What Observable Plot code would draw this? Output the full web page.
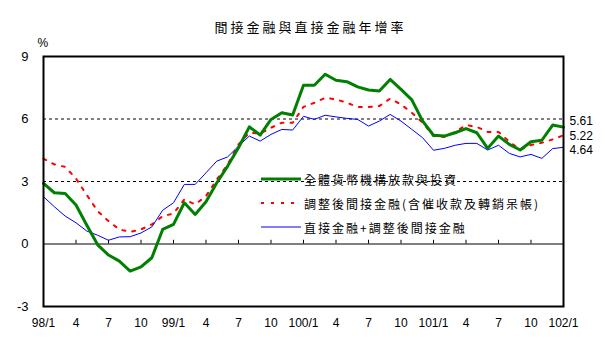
<!DOCTYPE html>
<html><head><meta charset="utf-8">
<script src="https://cdn.jsdelivr.net/npm/d3@7"></script>
<script src="https://cdn.jsdelivr.net/npm/@observablehq/plot@0.6"></script>
<style>
body{margin:0;background:#fff;}
#wrap{position:relative;width:605px;height:352px;}
#legend{position:absolute;left:261px;top:170px;font-family:"Noto Sans CJK TC","Noto Sans CJK SC",sans-serif;font-size:12px;letter-spacing:2px;color:#000;}
#legend .row{position:absolute;left:0;white-space:nowrap;display:flex;align-items:center;height:18px;}
#legend svg{margin-right:3px;}
</style>
</head><body>
<div id="wrap"><div id="legend"></div></div>
<script>
const title = "間接金融與直接金融年增率";
const seriesNames = ["全體貨幣機構放款與投資", "調整後間接金融(含催收款及轉銷呆帳)", "直接金融+調整後間接金融"];
const xTickLabels = ["98/1","4","7","10","99/1","4","7","10","100/1","4","7","10","101/1","4","7","10","102/1"];
const yTicks = [-3, 0, 3, 6, 9];
// monthly values 98/1 .. 102/1
const total = [2.91,2.46,2.42,1.87,0.9,-0.04,-0.53,-0.82,-1.3,-1.1,-0.66,0.7,0.94,1.98,1.42,2.03,2.94,3.74,4.62,5.62,5.23,5.98,6.3,6.19,7.62,7.62,8.15,7.86,7.79,7.54,7.39,7.34,7.9,7.42,6.92,5.9,5.22,5.18,5.34,5.54,5.34,4.59,5.18,4.78,4.51,4.91,4.98,5.71,5.61];
const indirect = [4.1,3.82,3.7,3.14,2.35,1.58,1.1,0.7,0.58,0.7,0.94,1.34,1.46,2.14,1.9,2.3,3.1,3.82,4.78,5.34,5.3,5.58,5.82,5.82,6.58,6.78,7.02,6.94,6.78,6.58,6.58,6.62,6.98,6.7,6.3,5.82,5.18,5.14,5.38,5.71,5.62,5.38,5.38,4.91,4.53,4.75,4.86,5.02,5.22];
const combined = [2.27,1.79,1.34,1.02,0.62,0.42,0.18,0.34,0.35,0.53,0.82,1.62,1.98,2.86,2.86,3.42,3.98,4.18,4.7,5.18,4.94,5.26,5.5,5.47,6.13,5.98,6.18,6.1,6.03,5.98,5.66,5.9,6.22,5.9,5.5,5.1,4.5,4.59,4.74,4.83,4.83,4.51,4.74,4.35,4.18,4.3,4.11,4.58,4.64];
const colors = ["#008000", "#ff0000", "#0000ff"];

const tickPos = xTickLabels.map((_, i) => i * 3);
const lastIdx = total.length - 1;
const endSeries = [total, indirect, combined];
const endOffsets = [-6, 1, 3];
const numFont = "'Liberation Sans Narrow', 'Liberation Sans', Arial, sans-serif";

const endMarks = endSeries.map((s, k) =>
  Plot.text([s[lastIdx]], {x: () => lastIdx, y: d => d, dx: 6, dy: endOffsets[k], text: d => d.toFixed(2), textAnchor: "start", fontSize: 12})
);

const chart = Plot.plot({
  width: 605, height: 352,
  marginLeft: 43, marginRight: 42, marginTop: 56, marginBottom: 46,
  style: {fontFamily: numFont, fontSize: "13px", background: "white", color: "black"},
  x: {domain: [0, 48], label: null},
  y: {domain: [-3, 9], label: null},
  marks: [
    Plot.ruleY([3, 6], {stroke: "black", strokeWidth: 1, strokeDasharray: "3,3"}),
    Plot.ruleY([0], {stroke: "black", strokeWidth: 1}),
    Plot.ruleX(tickPos, {y1: 0, y2: 0.18, stroke: "black", strokeWidth: 1}),
    Plot.line(indirect, {x: (d, i) => i, y: d => d, stroke: colors[1], strokeWidth: 2, strokeDasharray: "3,7"}),
    Plot.line(combined, {x: (d, i) => i, y: d => d, stroke: colors[2], strokeWidth: 1}),
    Plot.line(total, {x: (d, i) => i, y: d => d, stroke: colors[0], strokeWidth: 3}),
    Plot.frame({stroke: "black", strokeWidth: 2}),
    Plot.axisY({ticks: yTicks, tickSize: 0, tickPadding: 15, fontSize: 13, label: null, tickFormat: d => String(d)}),
    Plot.axisX({ticks: tickPos, tickSize: 0, tickPadding: 12, fontSize: 12, label: null, tickFormat: (d) => xTickLabels[d / 3]}),
    ...endMarks,
    Plot.text(["%"], {frameAnchor: "top-left", dx: -6, dy: -18, text: d => d, fontSize: 12}),
    Plot.text([title], {frameAnchor: "top", dx: 7, dy: -34, text: d => d, fontSize: 13, fontFamily: "'Noto Sans CJK TC', sans-serif"})
  ]
});
document.getElementById("wrap").prepend(chart);
// letter spacing for the title text
d3.select(chart).selectAll("text").filter(function(){ return this.textContent === title; }).style("letter-spacing", "3px");

const legend = document.getElementById("legend");
const dashes = [null, "3,7", null];
const widths = [3, 2, 1];
seriesNames.forEach((name, k) => {
  const row = document.createElement("div");
  row.className = "row";
  row.style.top = (k * 24) + "px";
  row.innerHTML = `<svg width="40" height="8"><line x1="0" y1="4" x2="40" y2="4" stroke="${colors[k]}" stroke-width="${widths[k]}" ${dashes[k] ? `stroke-dasharray="${dashes[k]}"` : ""}/></svg><span>${name}</span>`;
  legend.appendChild(row);
});
</script>
</body></html>
